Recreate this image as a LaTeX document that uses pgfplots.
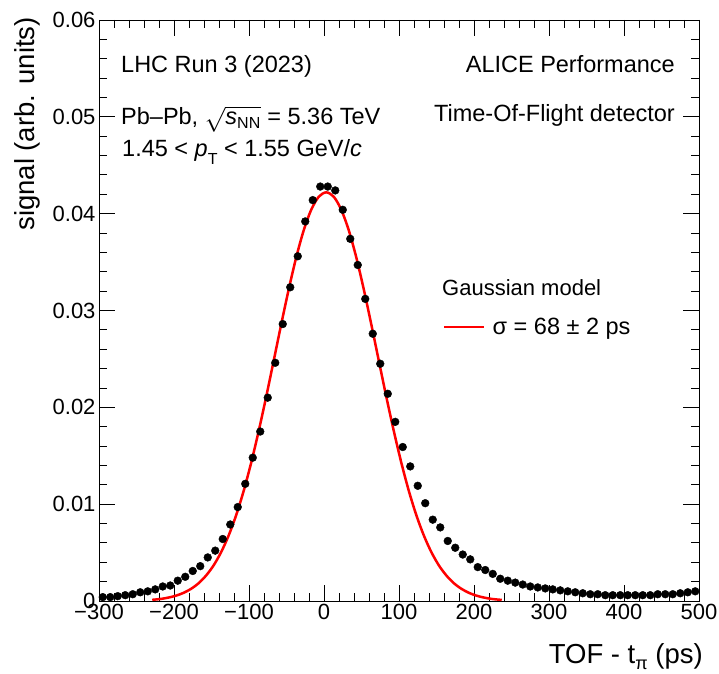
\documentclass[border=0pt]{standalone}
\usepackage{fontspec}
\setmainfont{Liberation Sans}
\usepackage{pgfplots}
\pgfplotsset{compat=1.18}
\usepackage{pgfplotstable}

\pgfplotstableread{
x y
-295 0.0004
-285 0.0004
-275 0.0005
-265 0.0006
-255 0.0007
-245 0.0009
-235 0.0010
-225 0.0012
-215 0.0015
-205 0.0016
-195 0.0021
-185 0.0025
-175 0.0031
-165 0.0036
-155 0.0045
-145 0.0052
-135 0.0064
-125 0.0079
-115 0.0097
-105 0.0121
-95 0.0148
-85 0.0175
-75 0.0210
-65 0.0246
-55 0.0286
-45 0.0324
-35 0.0356
-25 0.0392
-15 0.0414
-5 0.0428
5 0.0428
15 0.0424
25 0.0404
35 0.0374
45 0.0347
55 0.0312
65 0.0276
75 0.0245
85 0.0214
95 0.0185
105 0.0159
115 0.0139
125 0.0119
135 0.0101
145 0.0084
155 0.0076
165 0.0062
175 0.0055
185 0.0048
195 0.0043
205 0.0035
215 0.0032
225 0.0028
235 0.0023
245 0.0021
255 0.0019
265 0.0017
275 0.0015
285 0.0014
295 0.0013
305 0.0012
315 0.0011
325 0.0010
335 0.0009
345 0.0008
355 0.0007
365 0.0007
375 0.0006
385 0.0006
395 0.0006
405 0.0006
415 0.0006
425 0.0006
435 0.0006
445 0.0007
455 0.0007
465 0.0007
475 0.0008
485 0.0009
495 0.0010
}\datatab

\pgfplotstableread{
x y
-229 0.00012
-217 0.00022
-207 0.00036
-197 0.00056
-187 0.00085
-177 0.00127
-167 0.00185
-157 0.00265
-147 0.00370
-137 0.00507
-127 0.00679
-117 0.00889
-107 0.01140
-97 0.01431
-87 0.01758
-77 0.02112
-67 0.02484
-57 0.02859
-47 0.03220
-37 0.03550
-27 0.03829
-17 0.04041
-7 0.04175
3 0.04220
13 0.04175
23 0.04041
33 0.03829
43 0.03550
53 0.03220
63 0.02859
73 0.02484
83 0.02112
93 0.01758
103 0.01431
113 0.01140
123 0.00889
133 0.00679
143 0.00507
153 0.00370
163 0.00265
173 0.00185
183 0.00127
193 0.00085
203 0.00056
213 0.00036
223 0.00022
237 0.00011
}\gaustab

\newcommand{\tickf}{\fontsize{22bp}{26bp}\selectfont}
\newcommand{\bigf}{\fontsize{23.5bp}{27bp}\selectfont}
\newcommand{\subf}{\fontsize{16bp}{18bp}\selectfont}
\newcommand{\labf}{\fontsize{27.5bp}{32bp}\selectfont}
\newcommand{\labsubf}{\fontsize{18bp}{20bp}\selectfont}

\begin{document}
\begin{tikzpicture}[every node/.style={font=\bigf}]
\begin{axis}[
  at={(0,0)}, anchor=south west,
  scale only axis, width=600bp, height=581bp,
  xmin=-300, xmax=500, ymin=0, ymax=0.06,
  xtick={-300,-200,-100,0,100,200,300,400,500},
  xticklabels={−300,−200,−100,0,100,200,300,400,500},
  ytick={0,0.01,0.02,0.03,0.04,0.05,0.06},
  yticklabels={0,0.01,0.02,0.03,0.04,0.05,0.06},
  scaled y ticks=false,
  minor x tick num=4, minor y tick num=4,
  tick align=inside,
  major tick length=16bp, minor tick length=8bp,
  tick style={black, line width=0.9bp},
  axis line style={black, line width=0.9bp},
  ticklabel style={font=\tickf},
  legend style={at={(axis description cs:0.5733,0.4716)}, anchor=west,
    draw=none, fill=none, inner sep=0pt, font=\tickf},
  legend image code/.code={\draw[#1] (0bp,0bp) -- (40bp,0bp); \path (45bp,0bp);},
  clip=false,
]
\addplot[only marks, mark=*, mark size=3.9bp, black, forget plot] table[x=x,y=y] {\datatab};
\addplot[red, line width=2.5bp, smooth, no marks] table[x=x,y=y] {\gaustab};
\addlegendentry{σ = 68 ± 2 ps}
\end{axis}
\node[anchor=base west, inner sep=0pt] at (22bp,528bp) {LHC Run 3 (2023)};
\node[anchor=base east, inner sep=0pt] at (576bp,528bp) {ALICE Performance};
\node[anchor=base west, inner sep=0pt] at (22bp,476bp) {Pb–Pb, $\sqrt{\mbox{\bigf\itshape s}_{\mbox{\subf NN}}}$ = 5.36 TeV};
\node[anchor=base east, inner sep=0pt] at (576bp,479bp) {Time-Of-Flight detector};
\node[anchor=base west, inner sep=0pt] at (23bp,444bp) {1.45 < \textit{p}\raisebox{-0.3em}{\subf T} < 1.55 GeV/\textit{c}};
\node[anchor=base west, inner sep=0pt, font=\tickf] at (343bp,305bp) {Gaussian model};
\node[anchor=base east, inner sep=0pt, font=\labf] at (604bp,-62bp) {TOF - t\raisebox{-0.25em}{\labsubf π} (ps)};
\node[anchor=base east, inner sep=0pt, rotate=90, font=\labf] at (-64bp,584bp) {signal (arb. units)};
\pgfresetboundingbox
\path (-99bp,-73bp) rectangle (620bp,601bp);
\end{tikzpicture}
\end{document}
